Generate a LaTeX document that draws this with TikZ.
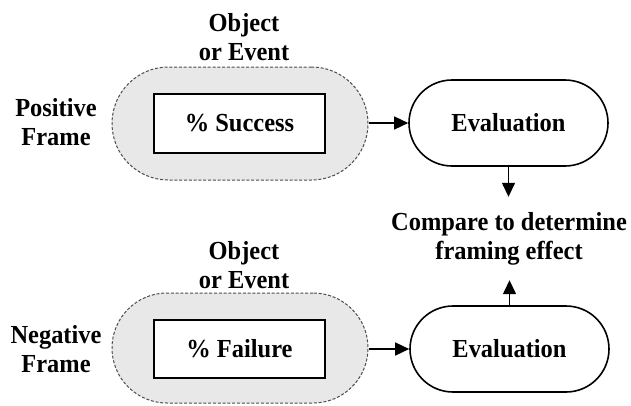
\documentclass[tikz,border=0pt]{standalone}
\usepackage{fontspec}
\setmainfont[FakeStretch=0.94]{Liberation Serif}
\usetikzlibrary{arrows.meta}
\definecolor{capsulefill}{RGB}{232,232,232}
\begin{document}
\begin{tikzpicture}[x=1pt,y=-1pt,
  every node/.style={font=\fontsize{26}{29}\selectfont\bfseries, align=center, inner sep=0pt},
  capsule/.style={draw=black!70, dashed, dash pattern=on 3pt off 1.8pt, line width=1pt,
    fill=capsulefill, minimum width=256pt, minimum height=#1, rounded corners=#1/2-0.01pt},
  valuebox/.style={draw, line width=2.2pt, fill=white, minimum width=171pt, minimum height=59pt},
  evalbox/.style={draw, line width=1.6pt, fill=white, minimum width=199pt, minimum height=86pt,
    rounded corners=42.99pt},
  arr/.style={line width=1.4pt, -{Triangle[length=14pt,width=13pt]}}
]
\useasboundingbox (0,0) rectangle (631,405);

% positive frame row
\node[capsule=113pt] (capA) at (240,123.5) {};
\node[valuebox] (valA) at (239.5,123.5) {\% Success};
\node (objA) at (244,37) {Object\\or Event};
\node (frameA) at (56,122) {Positive\\Frame};
\node[evalbox] (evalA) at (508.5,123) {Evaluation};

% negative frame row
\node[capsule=110pt] (capB) at (240,348) {};
\node[valuebox, minimum height=58pt] (valB) at (239.5,349) {\% Failure};
\node (objB) at (244,265) {Object\\or Event};
\node (frameB) at (56,349) {Negative\\Frame};
\node[evalbox] (evalB) at (509.5,349) {Evaluation};

% comparison
\node[minimum height=83pt] (cmp) at (509,238.5) {Compare to determine\\framing effect};

% connectors
\draw[arr] (capA.east |- evalA.west) -- (evalA.west);
\draw[arr] (capB.east |- evalB.west) -- (evalB.west);
\draw[arr] (evalA.south) -- (evalA.south |- cmp.north);
\draw[arr] (evalB.north) -- (evalB.north |- cmp.south);
\end{tikzpicture}
\end{document}
